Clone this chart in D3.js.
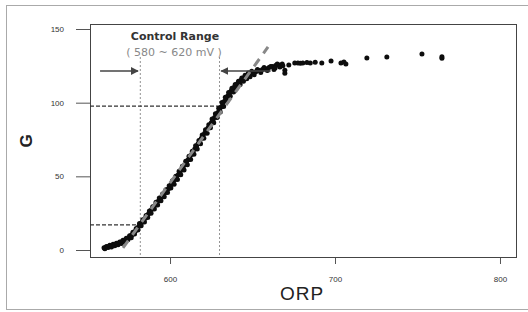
<!DOCTYPE html>
<html>
  <head>
    <meta charset="utf-8">
    <title>G vs ORP</title>
    <script src="https://cdnjs.cloudflare.com/ajax/libs/d3/7.8.5/d3.min.js" charset="utf-8"></script>
    <style>
      body { margin: 0; background: #fff; }
      svg { display: block; }
    </style>
  </head>

  <body>
    <div id="chart"></div>
    <script>

var orpA = [560,561,562,563,564,565,566,567,568,569,570,571,572,573,574,575,576,577,578,579,
            580,581,582,583,584,585,586,587,588,589,590,591,592,593,594,595,596,597,598,599,
            600,601,602,603,604,605,606,607,608,609,610,611,612,613,614,615,616,617,618,619,
            620,621,622,623,624,625,626,627,628,629,630,631,632,633,634,635,636,637,638,639,
            640,641,642,643,644,645,646,647,648,649,650,652,654,656,658,660,662,664,666,668];
var gA   = [1.5,1.8,2.0,2.6,2.4,3.0,3.4,3.8,4.3,4.6,5.2,5.6,6.4,7.0,7.6,8.4,9.5,10.3,11.8,12.9,
            14.5,16.0,17.4,18.8,20.2,21.5,23.4,24.6,26.5,27.6,29.3,30.4,32.0,33.2,35.1,36.0,37.8,38.9,40.6,41.5,
            43.2,44.6,46.3,47.8,49.6,51.0,52.9,54.3,56.4,57.8,59.9,61.2,63.3,64.9,66.8,68.6,70.4,72.2,73.9,75.8,
            77.4,79.3,80.9,82.8,84.5,86.3,88.0,89.9,91.6,93.3,95.4,97.0,99.3,101.0,103.2,104.6,106.4,107.9,109.5,110.6,
            112.1,113.0,114.3,115.2,116.0,117.1,117.6,118.4,118.9,119.7,120.2,121.0,121.8,122.5,123.0,123.8,124.5,125.2,125.5,126.3];

var orpB = [560.5,561.5,562.5,563.5,564.5,565.5,566.5,567.5,568.5,569.5,570.5,571.5,572.5,573.5,574.5,575.5,576.5,577.5,578.5,579.5,
            580.5,581.5,582.5,583.5,584.5,585.5,586.5,587.5,588.5,589.5,590.5,591.5,592.5,593.5,594.5,595.5,596.5,597.5,598.5,599.5,
            600.5,601.5,602.5,603.5,604.5,605.5,606.5,607.5,608.5,609.5,610.5,611.5,612.5,613.5,614.5,615.5,616.5,617.5,618.5,619.5,
            620.5,621.5,622.5,623.5,624.5,625.5,626.5,627.5,628.5,629.5,630.5,631.5,632.5,633.5,634.5,635.5,636.5,637.5,638.5,639.5,
            640.5,641.5,642.5,643.5,644.5,645.5,646.5,647.5,648.5,649.5,651,653,655,657,659,661,663,665];
var gB   = [0.8,2.4,1.7,3.2,2.0,3.9,2.9,4.6,3.6,5.5,4.4,6.6,5.6,8.0,6.9,9.6,8.4,12.0,10.9,14.6,
            13.6,18.0,16.4,20.6,19.0,23.5,22.0,26.4,24.9,29.4,27.8,32.4,30.6,35.3,33.4,38.0,36.2,40.9,39.1,43.6,
            42.0,47.0,44.6,50.1,47.9,53.4,51.0,56.9,54.3,60.2,57.9,63.6,61.4,67.1,65.0,70.8,68.6,74.4,72.2,78.0,
            75.8,81.7,79.2,85.1,82.9,88.9,86.3,92.5,90.0,96.2,93.6,100.1,97.4,103.6,100.9,106.9,104.3,109.8,107.2,112.3,
            110.0,114.6,112.4,116.8,114.5,118.6,116.3,120.2,117.6,121.3,119.0,122.6,120.5,123.8,121.8,124.6,122.6,126.2];

// scattered points on the plateau
var orpC = [663.7,666.6,668.4,669.6,669.6,672,675.6,677.5,679,680.5,683,685,688,692,697.6,703.6,705.4,706.6,719.3,731.4,752.7,764.8,764.8];
var gC   = [123.6,124.2,125.0,122.0,120.0,125.5,127.0,127.0,126.8,127.0,127.2,127.0,127.4,127.0,128.3,127.0,127.6,126.3,130.3,131.0,133.0,131.2,130.2];

// fitted tangent line ends
var fitOrp = [571.5, 659.4];
var fitG   = [1.4, 137.8];

// control range markers
var rangeOrp = [582, 630];
var rangeTopG = 131;
var levelG = [17, 97.7];

var xTicks = [600, 700, 800];
var yTicks = [0, 50, 100, 150];

var W = 528, H = 312;
var plotL = 90, plotR = 516, plotT = 24, plotB = 257;

var svg = d3.select("#chart").append("svg")
    .attr("width", W).attr("height", H);

// outer frame
svg.append("rect")
    .attr("x", 6.5).attr("y", 5.5)
    .attr("width", 540).attr("height", 304)
    .attr("fill", "none")
    .attr("stroke", "#aaa")
    .attr("stroke-width", 1);

var x = d3.scaleLinear().domain([551.5, 809.7]).range([plotL, plotR]);
var y = d3.scaleLinear().domain([-4.75, 153.4]).range([plotB, plotT]);

// axes
var xAxis = d3.axisBottom(x).tickValues(xTicks).tickSize(7).tickFormat(d3.format("d"));
var yAxis = d3.axisLeft(y).tickValues(yTicks).tickSize(14).tickPadding(12);

var gx = svg.append("g").attr("transform", "translate(0," + plotB + ")").call(xAxis);
var gy = svg.append("g").attr("transform", "translate(" + plotL + ",0)").call(yAxis);
[gx, gy].forEach(function(a) {
    a.select(".domain").remove();
    a.selectAll("line").attr("stroke", "#555");
    a.selectAll("text")
        .attr("fill", "#333")
        .style("font-family", "Liberation Sans, Arial, sans-serif")
        .style("font-size", "8px");
});
gx.selectAll("text").attr("dy", "1.9em");

// plot box
svg.append("rect")
    .attr("x", plotL + 0.5).attr("y", plotT + 0.5)
    .attr("width", plotR - plotL).attr("height", plotB - plotT)
    .attr("fill", "none")
    .attr("stroke", "#444")
    .attr("stroke-width", 1);

// vertical range lines
svg.selectAll(".vline").data(rangeOrp).enter().append("line")
    .attr("class", "vline")
    .attr("x1", function(d) { return x(d); })
    .attr("x2", function(d) { return x(d); })
    .attr("y1", y(rangeTopG))
    .attr("y2", plotB)
    .attr("stroke", "#777")
    .attr("stroke-width", 0.8)
    .attr("stroke-dasharray", "2,2");

// horizontal level lines
svg.selectAll(".hline").data(levelG).enter().append("line")
    .attr("class", "hline")
    .attr("x1", plotL)
    .attr("x2", function(d, i) { return x(rangeOrp[i]); })
    .attr("y1", function(d) { return y(d); })
    .attr("y2", function(d) { return y(d); })
    .attr("stroke", "#333")
    .attr("stroke-width", 1.2)
    .attr("stroke-dasharray", "4,2");

// points
var pts = [];
orpA.forEach(function(v, i) { pts.push([v, gA[i]]); });
orpB.forEach(function(v, i) { pts.push([v, gB[i]]); });
orpC.forEach(function(v, i) { pts.push([v, gC[i]]); });

svg.selectAll(".pt").data(pts).enter().append("circle")
    .attr("class", "pt")
    .attr("cx", function(d) { return x(d[0]); })
    .attr("cy", function(d) { return y(d[1]); })
    .attr("r", 2.5)
    .attr("fill", "#0d0d0d");

// fitted line
svg.append("line")
    .attr("x1", x(fitOrp[0])).attr("y1", y(fitG[0]))
    .attr("x2", x(fitOrp[1])).attr("y2", y(fitG[1]))
    .attr("stroke", "#888")
    .attr("stroke-width", 3)
    .attr("stroke-dasharray", "9,7");

// arrows
var defs = svg.append("defs");
defs.append("marker")
    .attr("id", "head")
    .attr("viewBox", "0 0 10 10")
    .attr("refX", 9).attr("refY", 5)
    .attr("markerWidth", 5).attr("markerHeight", 5)
    .attr("orient", "auto")
    .append("path").attr("d", "M0,0L10,5L0,10z").attr("fill", "#444");

var arrowG = 121.5;
var arrows = [[557.6, 580.6], [661, 631]];
svg.selectAll(".arrow").data(arrows).enter().append("line")
    .attr("class", "arrow")
    .attr("x1", function(d) { return x(d[0]); })
    .attr("x2", function(d) { return x(d[1]); })
    .attr("y1", y(arrowG)).attr("y2", y(arrowG))
    .attr("stroke", "#444")
    .attr("stroke-width", 1.6)
    .attr("marker-end", "url(#head)");

// annotation text
svg.append("text")
    .attr("x", 175).attr("y", 40)
    .attr("text-anchor", "middle")
    .attr("fill", "#333")
    .style("font-family", "DejaVu Sans, sans-serif")
    .style("font-weight", "bold")
    .style("font-size", "11px")
    .text("Control  Range");

svg.append("text")
    .attr("x", 174).attr("y", 56)
    .attr("text-anchor", "middle")
    .attr("fill", "#888")
    .style("font-family", "DejaVu Sans, sans-serif")
    .style("font-size", "11px")
    .text("( 580 ~ 620 mV )");

// axis titles
svg.append("text")
    .attr("x", 302).attr("y", 300)
    .attr("text-anchor", "middle")
    .attr("fill", "#222")
    .style("font-family", "Liberation Sans, Arial, sans-serif")
    .style("font-size", "19px")
    .style("letter-spacing", "1px")
    .text("ORP");

svg.append("text")
    .attr("transform", "translate(32,141) rotate(-90)")
    .attr("text-anchor", "middle")
    .attr("fill", "#222")
    .style("font-family", "Liberation Sans, Arial, sans-serif")
    .style("font-weight", "bold")
    .style("font-size", "17px")
    .text("G");

    </script>
  </body>
</html>
